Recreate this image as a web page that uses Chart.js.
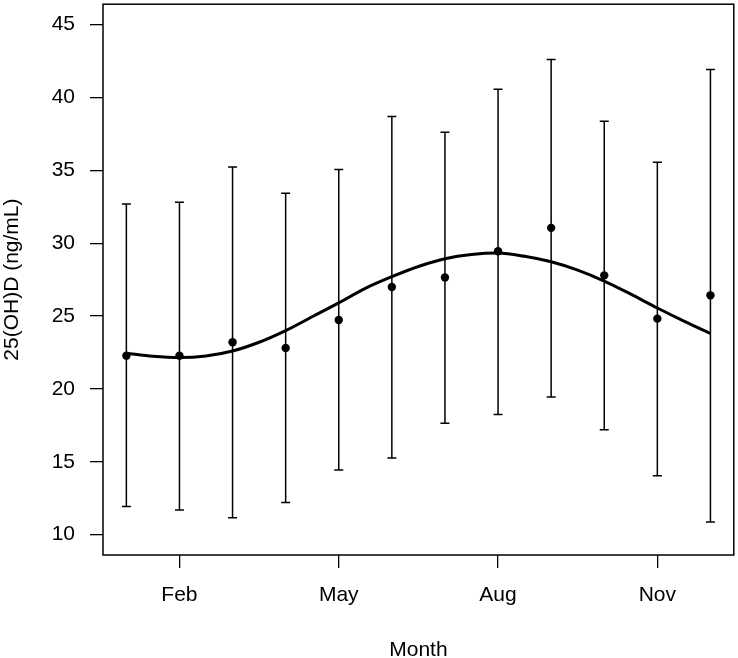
<!DOCTYPE html>
<html>
<head>
<meta charset="utf-8">
<script src="https://cdn.jsdelivr.net/npm/chart.js@4.4.1/dist/chart.umd.min.js"></script>
<style>
  body { margin: 0; background: #ffffff; }
  canvas { display: block; }
</style>
</head>
<body>
<canvas id="chartVitD" width="738" height="658"></canvas>
<script>
// Datos
const months = [1, 2, 3, 4, 5, 6, 7, 8, 9, 10, 11, 12];
const means = [22.28, 22.28, 23.2, 22.81, 24.73, 26.99, 27.65, 29.45, 31.05, 27.79, 24.82, 26.42];
const lower = [11.92, 11.69, 11.16, 12.21, 14.43, 15.25, 17.65, 18.24, 19.45, 17.19, 14.04, 10.87];
const upper = [32.69, 32.81, 35.23, 33.42, 35.05, 38.7, 37.62, 40.57, 42.6, 38.36, 35.55, 41.92];

// Curva ajustada (leida cada medio mes)
const curveMonths = [1, 1.5, 2, 2.5, 3, 3.5, 4, 4.5, 5, 5.5, 6, 6.5, 7, 7.5, 8, 8.5, 9, 9.5, 10, 10.5, 11, 11.5, 12];
const curveValues = [22.45, 22.24, 22.15, 22.26, 22.6, 23.2, 24.0, 24.95, 25.9, 26.9, 27.7, 28.4, 28.93, 29.22, 29.32, 29.1, 28.72, 28.15, 27.4, 26.5, 25.55, 24.65, 23.8];

const xTickValues = [2, 5, 8, 11];
const xTickLabels = ['Feb', 'May', 'Aug', 'Nov'];
const yTickValues = [10, 15, 20, 25, 30, 35, 40, 45];

const font = { family: '"Liberation Sans", Arial, Helvetica, sans-serif', size: 21 };

// Barras de error
const errorBars = {
    id: 'errorBars',
    beforeDatasetsDraw(chart) {
        const ctx = chart.ctx;
        const x = chart.scales.x;
        const y = chart.scales.y;
        ctx.save();
        ctx.strokeStyle = '#000000';
        ctx.lineWidth = 1.5;
        months.forEach((m, i) => {
            const px = x.getPixelForValue(m);
            const yl = y.getPixelForValue(lower[i]);
            const yu = y.getPixelForValue(upper[i]);
            ctx.beginPath();
            ctx.moveTo(px, yl);
            ctx.lineTo(px, yu);
            ctx.moveTo(px - 4.5, yl);
            ctx.lineTo(px + 4.5, yl);
            ctx.moveTo(px - 4.5, yu);
            ctx.lineTo(px + 4.5, yu);
            ctx.stroke();
        });
        ctx.restore();
    }
};

// Caja alrededor del area
const box = {
    id: 'box',
    afterDraw(chart) {
        const a = chart.chartArea;
        const ctx = chart.ctx;
        ctx.save();
        ctx.strokeStyle = '#000000';
        ctx.lineWidth = 1.5;
        ctx.strokeRect(a.left, a.top, a.right - a.left, a.bottom - a.top);
        ctx.restore();
    }
};

new Chart(document.getElementById('chartVitD'), {
    type: 'scatter',
    data: {
        datasets: [{
            type: 'line',
            data: curveMonths.map((m, i) => ({ x: m, y: curveValues[i] })),
            borderColor: '#000000',
            borderWidth: 3,
            pointRadius: 0,
            fill: false,
            cubicInterpolationMode: 'monotone'
        }, {
            data: months.map((m, i) => ({ x: m, y: means[i] })),
            backgroundColor: '#000000',
            borderColor: '#000000',
            pointRadius: 4.2,
            borderWidth: 0
        }]
    },
    options: {
        responsive: false,
        animation: false,
        layout: { padding: { top: 3, right: 3, left: 0, bottom: 0 } },
        plugins: { legend: { display: false }, tooltip: { enabled: false } },
        scales: {
            x: {
                type: 'linear',
                min: 0.56,
                max: 12.44,
                afterBuildTicks: scale => { scale.ticks = xTickValues.map(v => ({ value: v })); },
                afterFit: scale => {
                    scale.height = 103;
                    scale.paddingLeft = 0;
                    scale.paddingRight = 0;
                },
                grid: { drawOnChartArea: false, color: '#000000', tickLength: 13, lineWidth: 1.3 },
                border: { display: false },
                ticks: {
                    color: '#000000',
                    font: font,
                    padding: 15,
                    maxRotation: 0,
                    callback: v => xTickLabels[xTickValues.indexOf(v)]
                },
                title: {
                    display: true,
                    text: 'Month',
                    color: '#000000',
                    font: { family: font.family, size: 21, lineHeight: 1 },
                    padding: { top: 0, bottom: -3 }
                }
            },
            y: {
                min: 8.6,
                max: 46.4,
                afterBuildTicks: scale => { scale.ticks = yTickValues.map(v => ({ value: v })); },
                afterFit: scale => {
                    scale.width = 103;
                    scale.paddingTop = 0;
                    scale.paddingBottom = 0;
                },
                grid: { drawOnChartArea: false, color: '#000000', tickLength: 13, lineWidth: 1.3 },
                border: { display: false },
                ticks: {
                    color: '#000000',
                    font: font,
                    padding: 15
                },
                title: {
                    display: true,
                    text: '25(OH)D (ng/mL)',
                    color: '#000000',
                    font: { family: font.family, size: 21, lineHeight: 1.2 },
                    padding: 0
                }
            }
        }
    },
    plugins: [errorBars, box]
});
</script>
</body>
</html>
